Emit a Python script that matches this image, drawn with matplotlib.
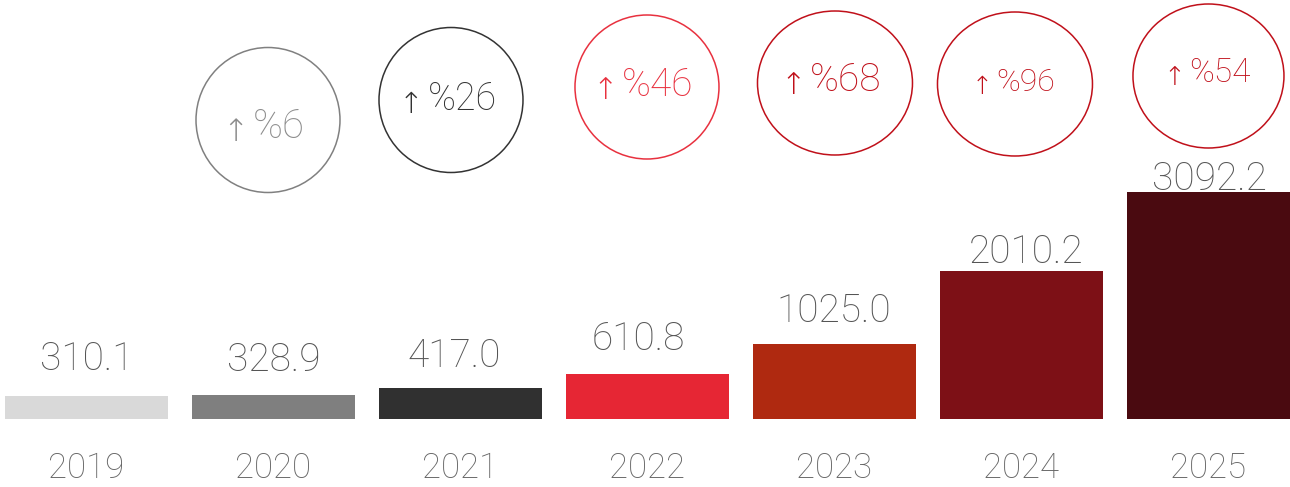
import matplotlib.pyplot as plt
import numpy as np
from matplotlib.patches import Ellipse

# data
years = ['2019', '2020', '2021', '2022', '2023', '2024', '2025']
values = [310.1, 328.9, 417.0, 610.8, 1025.0, 2010.2, 3092.2]
growth = [None, '%6', '%26', '%46', '%68', '%96', '%54']

bar_colors = ['#D9D9D9', '#7F7F7F', '#303030', '#E62634', '#AF2910', '#7D1016', '#4A0A10']
ring_colors = [None, '#808080', '#333333', '#E8313F', '#C0101A', '#C0101A', '#C0101A']
pct_colors = [None, '#8C8C8C', '#333333', '#E8313F', '#C0101A', '#C0101A', '#C0101A']

# layout (pixels)
W, H = 1290, 487
ring_dx = [0, -5.5, -9.5, -0.5, 0.5, -6.5, 0]
ring_cy = [0, 120, 100, 87, 83, 84, 76]
ring_w = [0, 144, 144, 144, 155, 155, 151]
ring_h = [0, 145, 145, 144, 144, 144, 144]
pct_base = [0, 138, 110, 96, 91, 91, 82]
pct_size = [0, 29, 27, 28, 28, 23, 24]
lab_pad = [26, 24, 21, 24, 22, 8, 2]
lab_dx = [0, 0, -6, -9, -1, 5, 1]

plt.rcParams['font.family'] = ['Roboto', 'DejaVu Sans']

fig = plt.figure(figsize=(W / 100, H / 100), dpi=100)
ax = fig.add_axes([0, 0, 1, 1])
ax.set_xlim(-0.4626, 6.436)
ax.set_ylim(-932, 5712)
ax.axis('off')

x = np.arange(len(years))
ax.bar(x, values, width=0.872, color=bar_colors)

x0, x1 = ax.get_xlim()
y0, y1 = ax.get_ylim()
sx = (x1 - x0) / W
sy = (y1 - y0) / H

for i, v in enumerate(values):
    ax.annotate(f'{v:.1f}', xy=(i, v), xytext=(lab_dx[i] * 0.72, lab_pad[i] * 0.72),
                textcoords='offset points', ha='center', va='baseline',
                fontsize=28, fontweight='light', color='#555555')
    ax.annotate(years[i], xy=(i, 0), xytext=(0, -59.5 * 0.72),
                textcoords='offset points', ha='center', va='baseline',
                fontsize=25, fontweight='light', color='#666666')

    if growth[i] is None:
        continue
    cx = i + ring_dx[i] * sx
    cy = y1 - ring_cy[i] * sy
    ax.add_patch(Ellipse((cx, cy), ring_w[i] * sx, ring_h[i] * sy, fill=False,
                         edgecolor=ring_colors[i], linewidth=1.1))
    t = ax.text(cx + 11 * sx, y1 - pct_base[i] * sy, growth[i], ha='center', va='baseline',
                fontsize=pct_size[i], fontweight='light', color=pct_colors[i])
    ax.annotate('↑', xy=(0, y1 - (pct_base[i] + 3) * sy), xycoords=(t, 'data'),
                xytext=(-3, 0), textcoords='offset points', ha='right', va='baseline',
                fontsize=pct_size[i] * 0.78, fontweight='light', color=pct_colors[i])

plt.savefig('out.png', dpi=100)
